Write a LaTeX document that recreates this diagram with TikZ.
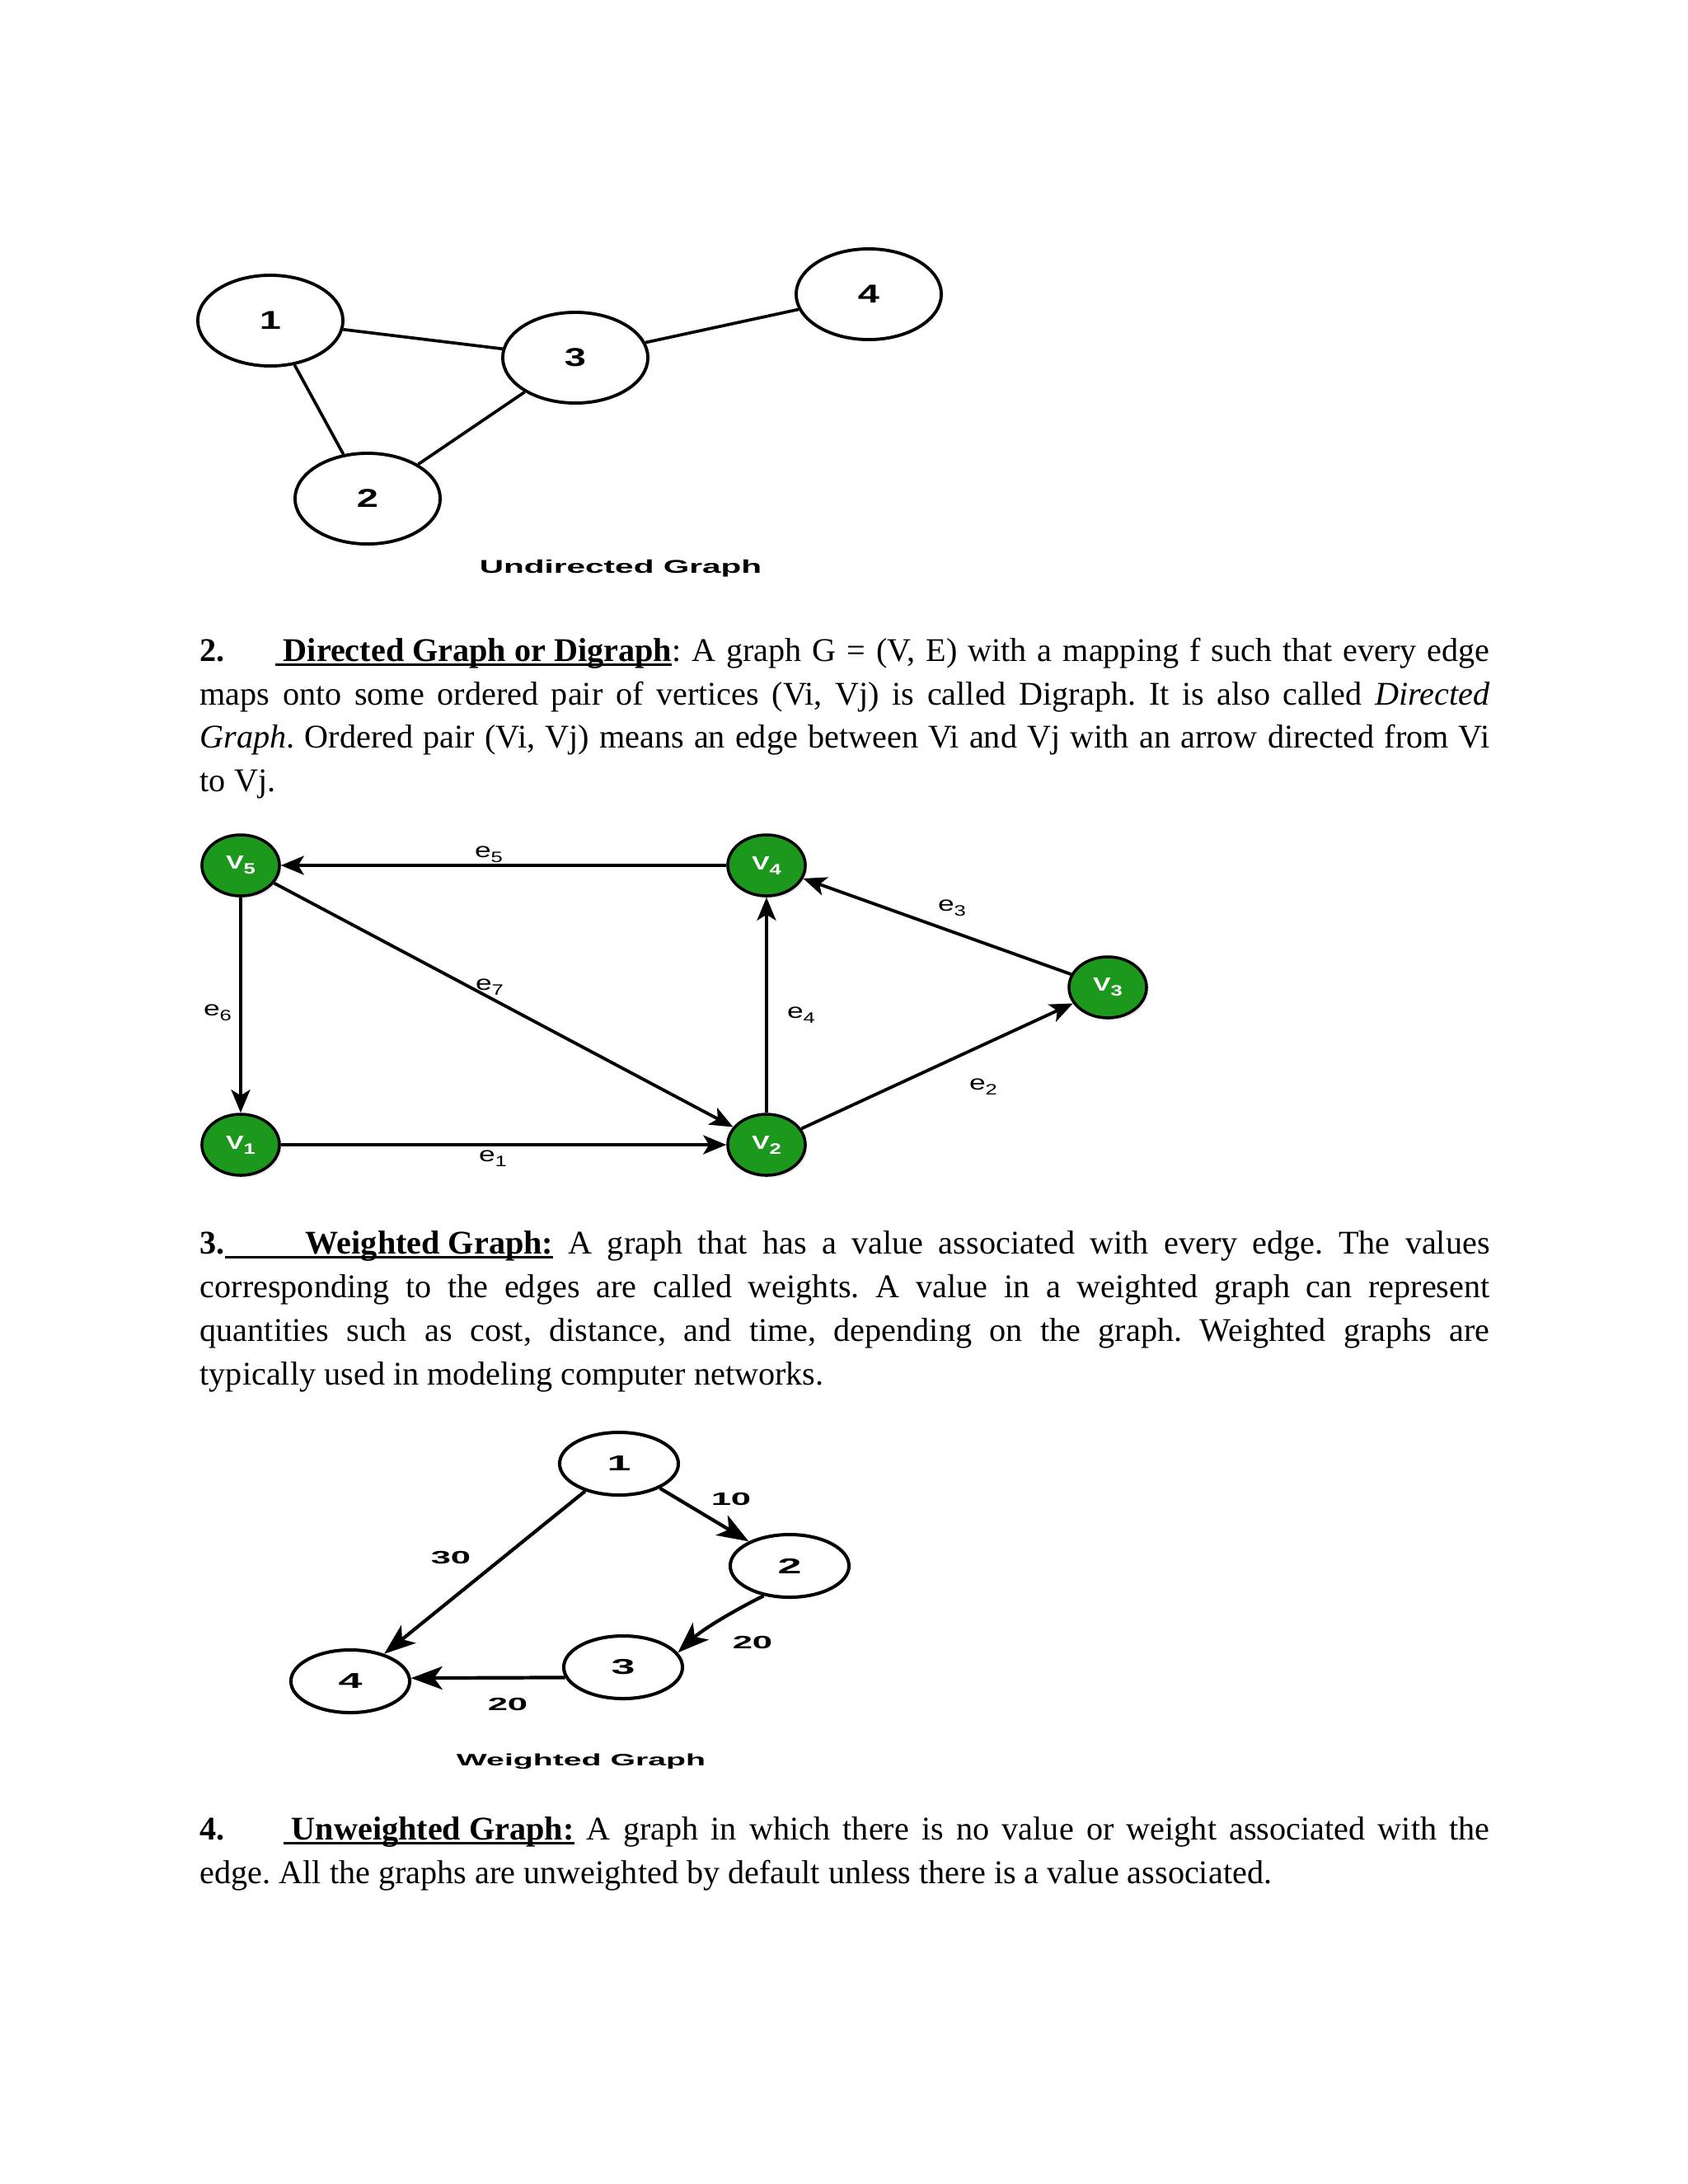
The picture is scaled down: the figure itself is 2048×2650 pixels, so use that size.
\documentclass[tikz,border=0pt]{standalone}
\usepackage{graphicx}
\usepackage{fontspec}
\setmainfont{Liberation Serif}
\newfontfamily\lsans{Liberation Sans}
\newfontfamily\dsans{DejaVu Sans}
\usetikzlibrary{shapes.geometric,arrows.meta,shadows}
\definecolor{vgreen}{RGB}{28,152,28}
\newsavebox\ulbox
\newcommand\myul[1]{\sbox\ulbox{#1}\rlap{\rule[-0.055cm]{\wd\ulbox}{0.025cm}}\usebox\ulbox}
\newcommand\bodyfont{\fontsize{11.43pt}{15pt}\selectfont\frenchspacing}
\newcommand\jline[1]{\makebox[15.64cm][s]{#1}}
\newcommand\sx[2]{\scalebox{#1}[1]{#2}}
\newcommand\Vlab[1]{\sx{1.4}{V\raisebox{-0.06cm}{\fontsize{5.2pt}{6pt}\selectfont #1}}}
\newcommand\elab[1]{\sx{1.4}{e\raisebox{-0.06cm}{\fontsize{5.2pt}{6pt}\selectfont #1}}}
\begin{document}
\begin{tikzpicture}[x=0.01cm,y=-0.01cm,
  ugnode/.style={ellipse, draw, line width=1.1pt, minimum width=1.76cm, minimum height=1.1cm, inner sep=0pt, font=\lsans\bfseries\fontsize{8.9pt}{9pt}\selectfont},
  uedge/.style={line width=1.05pt},
  dnode/.style={ellipse, draw=black, fill=vgreen, line width=1pt, minimum width=0.94cm, minimum height=0.74cm, inner sep=0pt, text=white, font=\lsans\bfseries\fontsize{6.6pt}{7pt}\selectfont, drop shadow={opacity=0.18, shadow xshift=0.025cm, shadow yshift=-0.03cm}},
  dedge/.style={line width=1.1pt, -{Stealth[length=0.28cm,width=0.23cm,inset=0.07cm]}},
  elabel/.style={font=\lsans\fontsize{7.2pt}{8pt}\selectfont, inner sep=0pt},
  wnode/.style={ellipse, draw, line width=1.15pt, minimum width=1.44cm, minimum height=0.76cm, inner sep=0pt, font=\lsans\bfseries\fontsize{7.4pt}{8pt}\selectfont},
  wedge/.style={line width=1.2pt, -{Stealth[length=0.38cm,width=0.28cm,inset=0.1cm]}},
  wlabel/.style={font=\lsans\bfseries\fontsize{6.2pt}{7pt}\selectfont, inner sep=0pt},
  capfont/.style={font=\lsans\bfseries\fontsize{6.37pt}{7pt}\selectfont, inner sep=0pt, anchor=base},
  body/.style={font=\bodyfont, inner sep=0pt, anchor=base west}]
\fill[white] (0,0) rectangle (2048,2650);
\useasboundingbox (0,0) rectangle (2048,2650);

% ---------- Undirected graph ----------
\node[ugnode] (u1) at (328,389) {\sx{1.5}{1}};
\node[ugnode] (u2) at (446,605) {\sx{1.5}{2}};
\node[ugnode] (u3) at (698,434) {\sx{1.5}{3}};
\node[ugnode] (u4) at (1054,357) {\sx{1.5}{4}};
\draw[uedge] (u1) -- (u3);
\draw[uedge] (u1) -- (u2);
\draw[uedge] (u3) -- (u2);
\draw[uedge] (u3) -- (u4);
\node[capfont] (ucap) at (753,695) {\sx{1.81}{Undirected Graph}};

% ---------- Section 2 text ----------
\node[body] (t2a) at (242,802) {\jline{\makebox[0.91cm][l]{\textbf{2.}}\myul{\textbf{\ Directed Graph or Digraph}}: A graph G = (V, E) with a mapping f such that every edge}};
\node[body] (t2b) at (242,855) {\jline{maps onto some ordered pair of vertices (Vi, Vj) is called Digraph. It is also called \textit{Directed}}};
\node[body] (t2c) at (242,907) {\jline{\textit{Graph}. Ordered pair (Vi, Vj) means an edge between Vi and Vj with an arrow directed from Vi}};
\node[body] (t2d) at (242,960) {to Vj.};

% ---------- Directed graph ----------
\node[dnode] (v5) at (292,1050) {\Vlab{5}};
\node[dnode] (v4) at (930,1050) {\Vlab{4}};
\node[dnode] (v3) at (1344,1198) {\Vlab{3}};
\node[dnode] (v1) at (292,1389) {\Vlab{1}};
\node[dnode] (v2) at (930,1389) {\Vlab{2}};
\draw[dedge] (v4) -- (v5);
\draw[dedge] (v5) -- (v1);
\draw[dedge] (v5) -- (v2);
\draw[dedge] (v2) -- (v4);
\draw[dedge] (v3) -- (v4);
\draw[dedge] (v2) -- (v3);
\draw[dedge] (v1) -- (v2);
\node[elabel] (le5) at (593,1037) {\elab{5}};
\node[elabel] (le3) at (1155,1102) {\elab{3}};
\node[elabel] (le7) at (594,1198) {\elab{7}};
\node[elabel] (le6) at (264,1229) {\elab{6}};
\node[elabel] (le4) at (972,1232) {\elab{4}};
\node[elabel] (le2) at (1193,1319) {\elab{2}};
\node[elabel] (le1) at (598,1406) {\elab{1}};

% ---------- Section 3 text ----------
\node[body] (t3a) at (242,1521) {\jline{\textbf{3.}\myul{\hspace{0.98cm}\textbf{Weighted Graph:}} A graph that has a value associated with every edge. The values}};
\node[body] (t3b) at (242,1574) {\jline{corresponding to the edges are called weights. A value in a weighted graph can represent}};
\node[body] (t3c) at (242,1627) {\jline{quantities such as cost, distance, and time, depending on the graph. Weighted graphs are}};
\node[body] (t3d) at (242,1680) {typically used in modeling computer networks.};

% ---------- Weighted graph ----------
\node[wnode] (w1) at (751,1776) {\sx{2}{1}};
\node[wnode] (w2) at (958,1900) {\sx{2}{2}};
\node[wnode] (w3) at (756,2023) {\sx{2}{3}};
\node[wnode] (w4) at (425,2040) {\sx{2}{4}};
\draw[wedge] (w1) -- (w2);
\draw[wedge] (w1) -- (w4);
\draw[wedge] (w2.229) .. controls +(-38,19) and +(30,-28) .. (w3.15);
\draw[wedge] (w3.190) -- (w4.3);
\node[wlabel] (l10) at (887,1819) {\sx{2}{10}};
\node[wlabel] (l30) at (547,1890) {\sx{2}{30}};
\node[wlabel] (l20a) at (913,1993) {\sx{2}{20}};
\node[wlabel] (l20b) at (616,2068) {\sx{2}{20}};
\node[capfont, font=\lsans\bfseries\fontsize{5.69pt}{6pt}\selectfont] (wcap) at (705,2142) {\sx{1.96}{Weighted Graph}};

% ---------- Section 4 text ----------
\node[body] (t4a) at (242,2232) {\jline{\makebox[1.01cm][l]{\textbf{4.}}\myul{\textbf{\ Unweighted Graph:}} A graph in which there is no value or weight associated with the}};
\node[body] (t4b) at (242,2285) {edge. All the graphs are unweighted by default unless there is a value associated.};
\end{tikzpicture}
\end{document}
